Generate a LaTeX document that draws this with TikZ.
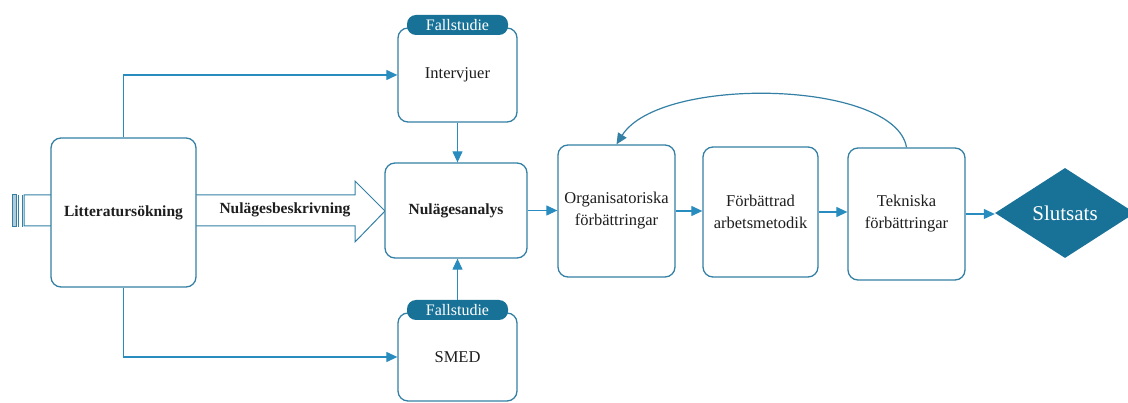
\documentclass[tikz,border=0pt]{standalone}
\usepackage{fontspec}
\setmainfont{Liberation Serif}
\usetikzlibrary{shapes.geometric,arrows.meta}
\definecolor{boxc}{RGB}{52,128,165}
\definecolor{arrc}{RGB}{40,140,190}
\definecolor{tealdark}{RGB}{24,114,152}
\definecolor{txt}{RGB}{30,30,30}
\begin{document}
\begin{tikzpicture}[x=1pt,y=-1pt,
  stepbox/.style={draw=boxc, line width=1.3pt, rounded corners=10pt, fill=white,
    align=center, text=txt, inner sep=2pt, font=\fontsize{16.5}{22}\selectfont},
  tab/.style={fill=tealdark, rounded corners=9pt, minimum width=101pt, minimum height=20pt,
    inner sep=0pt, text=white, font=\fontsize{16}{17}\selectfont},
  arr/.style={draw=arrc, line width=1.2pt, -{Triangle[length=11pt,width=10pt]}},
  bigarrow/.style={draw=boxc, line width=1pt, fill=white}]
\useasboundingbox (0,0) rectangle (1128,403);

% block arrow running behind the literature box
\path[bigarrow] (24,195) -- (355,195) -- (355,181) -- (385,211) -- (355,242)
  -- (355,226) -- (24,226) -- cycle;
\draw[boxc, line width=1pt, fill=boxc!40] (12,195) rectangle (16,227);
\draw[boxc, line width=1pt] (18.5,195) -- (18.5,227) (22,195) -- (22,227);
\node[text=txt, font=\bfseries\fontsize{15.5}{17}\selectfont] (besk) at (285,210) {Nulägesbeskrivning};

% boxes
\node[stepbox, minimum width=145pt, minimum height=149pt] (lit) at (123.5,212.5) {\bfseries\fontsize{15.5}{17}\selectfont Litteratursökning};
\node[stepbox, minimum width=119pt, minimum height=94pt] (interv) at (457.5,75) {Intervjuer};
\node[stepbox, minimum width=119pt, minimum height=88pt] (smed) at (457.5,357) {SMED};
\node[stepbox, minimum width=142pt, minimum height=95pt] (nul) at (456,210.5) {\bfseries\fontsize{15.5}{17}\selectfont Nulägesanalys};
\node[stepbox, minimum width=117pt, minimum height=132pt] (org) at (616.5,211) {Organisatoriska\\förbättringar};
\node[stepbox, minimum width=115pt, minimum height=130pt] (forb) at (760.5,212) {Förbättrad\\arbetsmetodik};
\node[stepbox, minimum width=117pt, minimum height=132pt] (tek) at (906.5,214) {Tekniska\\förbättringar};
\node[diamond, fill=tealdark, minimum width=140pt, minimum height=90pt, inner sep=0pt,
  text=white, font=\fontsize{21}{22}\selectfont] (slut) at (1065,213) {Slutsats};

% case-study tabs
\node[tab] (tabA) at (457.5,25) {Fallstudie};
\node[tab] (tabB) at (457.5,310) {Fallstudie};

% connectors
\draw[arr] (lit.north) |- (interv.west);
\draw[arr] (lit.south) |- (smed.west);
\draw[arr] (interv.south) -- (interv.south |- nul.north);
\draw[arr] (tabB.north) -- (tabB.north |- nul.south);
\draw[arr] (nul.east) -- (nul.east -| org.west);
\draw[arr] (org.east) -- (org.east -| forb.west);
\draw[arr] (forb.east) -- (forb.east -| tek.west);
\draw[arr] (tek.east) -- (tek.east -| slut.west);
\draw[arr, draw=boxc] (tek.north) .. controls (895,80) and (660,75) .. (org.north);
\end{tikzpicture}
\end{document}
